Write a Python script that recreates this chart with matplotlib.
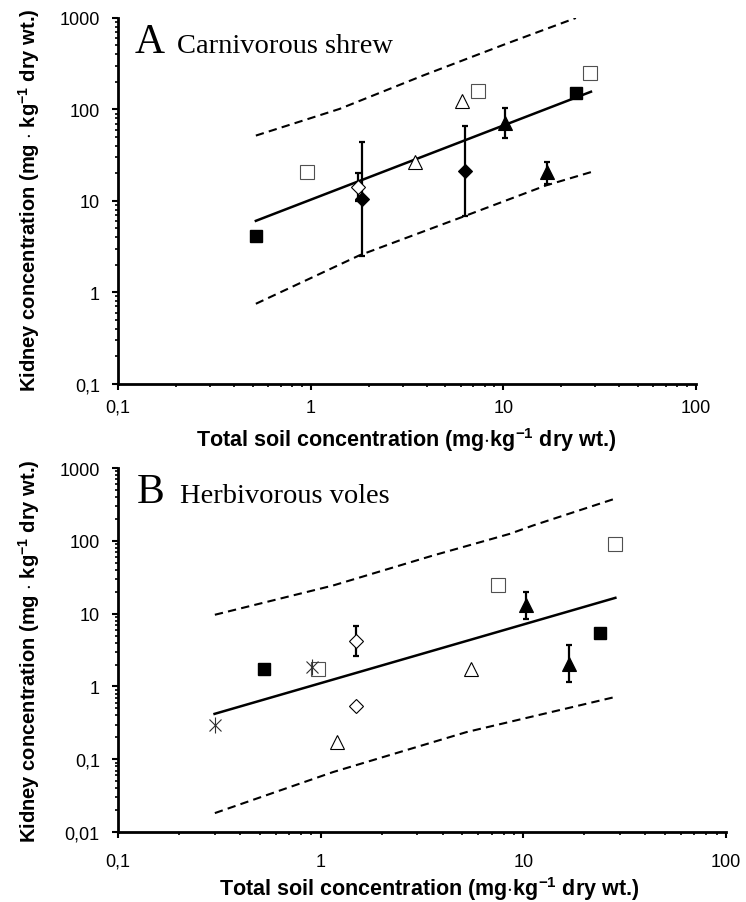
import matplotlib
matplotlib.use("Agg")
import matplotlib.pyplot as plt
import numpy as np

plt.rcParams['font.family'] = ['Liberation Sans', 'DejaVu Sans']
plt.rcParams['mathtext.fontset'] = 'custom'
plt.rcParams['mathtext.rm'] = 'Liberation Sans'
plt.rcParams['mathtext.bf'] = 'Liberation Sans:bold'
plt.rcParams['mathtext.default'] = 'bf'

# ---- A: carnivorous shrew ----
a_fsq_x = [0.52, 23.8]            # filled squares
a_fsq_y = [4.1, 153]
a_osq_x = [0.96, 7.42, 28.2]      # open squares
a_osq_y = [20.6, 157, 250]
a_otri_x = [3.5, 6.11]            # open triangles
a_otri_y = [26.9, 125]
a_ftri_x = [10.2, 16.8]           # filled triangles (mean, low, high)
a_ftri_y = [70.4, 20.6]
a_ftri_lo = [48.9, 15.3]
a_ftri_hi = [103, 26.5]
a_odia_x = [1.76]                 # open diamond
a_odia_y = [14.1]
a_odia_lo = [10.0]
a_odia_hi = [20.1]
a_fdia_x = [1.84, 6.33]           # filled diamonds
a_fdia_y = [10.5, 21.1]
a_fdia_lo = [2.52, 6.9]
a_fdia_hi = [43.8, 65.5]
a_fit_x = [0.52, 28.5]
a_fit_y = [6.04, 156]
a_up_x = [0.52, 1.41, 3.82, 10.3, 23.8]
a_up_y = [51.7, 101, 234, 520, 1000]
a_lo_x = [0.52, 1.79, 6.41, 16.6, 28.5]
a_lo_y = [0.748, 2.53, 6.9, 14.7, 20.6]

# ---- B: herbivorous voles ----
b_fsq_x = [0.525, 23.9]
b_fsq_y = [1.75, 5.42]
b_osq_x = [0.973, 7.47, 28.3]
b_osq_y = [1.71, 24.4, 91]
b_otri_x = [1.2, 5.52]
b_otri_y = [0.172, 1.75]
b_ftri_x = [10.3, 16.9]
b_ftri_y = [13.0, 2.05]
b_ftri_lo = [8.5, 1.15]
b_ftri_hi = [19.8, 3.66]
b_odia_x = [1.5, 1.5]
b_odia_y = [4.2, 0.531]
b_odia_lo = [2.62, 0.531]
b_odia_hi = [6.76, 0.531]
b_star_x = [0.301, 0.903]
b_star_y = [0.291, 1.88]
b_fit_x = [0.3, 28.5]
b_fit_y = [0.42, 16.5]
b_up_x = [0.301, 1.154, 3.59, 8.59, 11.2, 28.3]
b_up_y = [9.66, 24.4, 63, 125, 163, 379]
b_lo_x = [0.301, 1.154, 5.25, 28.3]
b_lo_y = [0.0182, 0.0667, 0.236, 0.715]

xticks = [0.1, 1, 10, 100]
xticklabels = ['0,1', '1', '10', '100']
a_yticks = [0.1, 1, 10, 100, 1000]
a_yticklabels = ['0,1', '1', '10', '100', '1000']
b_yticks = [0.01, 0.1, 1, 10, 100, 1000]
b_yticklabels = ['0,01', '0,1', '1', '10', '100', '1000']

xlab = r'Total soil concentration (mg$\cdot$kg$^{-1}$ dry wt.)'
ylab = r'Kidney concentration (mg $\cdot$ kg$^{-1}$ dry wt.)'

fig = plt.figure(figsize=(7.46, 9.03), dpi=100)
axA = fig.add_axes([0.158, 0.574, 0.775, 0.405])
axB = fig.add_axes([0.158, 0.0775, 0.815, 0.403])


def errbar(ax, x, y, lo, hi, marker, face, ms):
    y = np.array(y)
    yerr = [y - np.array(lo), np.array(hi) - y]
    ax.errorbar(x, y, yerr=yerr, fmt='none', ecolor='black', elinewidth=1.6,
                capsize=2.2, capthick=1.6, zorder=3)
    ax.plot(x, y, linestyle='none', marker=marker, ms=ms, mfc=face,
            mec='black', mew=0.8, zorder=4)


def style(ax, yticks, ylabels, xpad):
    ax.set_xscale('log')
    ax.set_yscale('log')
    ax.set_xlim(0.1, 100)
    ax.set_ylim(yticks[0], yticks[-1])
    ax.set_xticks(xticks, xticklabels)
    ax.set_yticks(yticks, ylabels)
    for s in ['top', 'right']:
        ax.spines[s].set_visible(False)
    for s in ['left', 'bottom']:
        ax.spines[s].set_linewidth(2)
    ax.tick_params(which='major', direction='out', length=4, width=1.5,
                   labelsize=13)
    ax.tick_params(which='minor', direction='out', length=2.5, width=1.2)
    ax.tick_params(axis='y', which='major', pad=9)
    ax.tick_params(axis='x', which='major', pad=xpad)


# panel A
axA.plot(a_up_x, a_up_y, 'k--', lw=1.5, dashes=(4, 2.5), zorder=2)
axA.plot(a_lo_x, a_lo_y, 'k--', lw=1.5, dashes=(4, 2.5), zorder=2)
axA.plot(a_fit_x, a_fit_y, 'k-', lw=1.8, zorder=2)
axA.plot(a_fsq_x, a_fsq_y, 's', ms=9, mfc='black', mec='black', zorder=4)
axA.plot(a_osq_x, a_osq_y, 's', ms=9.5, mfc='white', mec='#505050', mew=0.8, zorder=4)
axA.plot(a_otri_x, a_otri_y, '^', ms=10, mfc='white', mec='black', mew=0.8, zorder=4)
errbar(axA, a_odia_x, a_odia_y, a_odia_lo, a_odia_hi, 'D', 'white', 7.5)
errbar(axA, a_fdia_x, a_fdia_y, a_fdia_lo, a_fdia_hi, 'D', 'black', 7.5)
errbar(axA, a_ftri_x, a_ftri_y, a_ftri_lo, a_ftri_hi, '^', 'black', 10)
style(axA, a_yticks, a_yticklabels, 7)
axA.text(0.029, 0.907, 'A', transform=axA.transAxes, fontsize=30,
         family='Liberation Serif', va='baseline')
axA.text(0.102, 0.907, 'Carnivorous shrew', transform=axA.transAxes,
         fontsize=20.5, family='Liberation Serif', va='baseline')

# panel B
axB.plot(b_up_x, b_up_y, 'k--', lw=1.5, dashes=(4, 2.5), zorder=2)
axB.plot(b_lo_x, b_lo_y, 'k--', lw=1.5, dashes=(4, 2.5), zorder=2)
axB.plot(b_fit_x, b_fit_y, 'k-', lw=1.8, zorder=2)
axB.plot(b_fsq_x, b_fsq_y, 's', ms=9, mfc='black', mec='black', zorder=4)
axB.plot(b_osq_x, b_osq_y, 's', ms=9.5, mfc='white', mec='#505050', mew=0.8, zorder=4)
axB.plot(b_otri_x, b_otri_y, '^', ms=10, mfc='white', mec='black', mew=0.8, zorder=4)
errbar(axB, b_odia_x, b_odia_y, b_odia_lo, b_odia_hi, 'D', 'white', 7.5)
errbar(axB, b_ftri_x, b_ftri_y, b_ftri_lo, b_ftri_hi, '^', 'black', 10)
axB.plot(b_star_x, b_star_y, 'x', ms=9, mec='#303030', mew=0.8, zorder=4)
axB.plot(b_star_x, b_star_y, '|', ms=12, mec='#303030', mew=0.8, zorder=4)
style(axB, b_yticks, b_yticklabels, 11)
axB.text(0.031, 0.907, 'B', transform=axB.transAxes, fontsize=30,
         family='Liberation Serif', va='baseline')
axB.text(0.102, 0.907, 'Herbivorous voles', transform=axB.transAxes,
         fontsize=20.5, family='Liberation Serif', va='baseline')

# axis titles
fig.text(406 / 746, 1 - 440 / 903, xlab, ha='center', va='center',
         fontsize=15.5, fontweight='bold')
fig.text(429 / 746, 1 - 889 / 903, xlab, ha='center', va='center',
         fontsize=15.5, fontweight='bold')
fig.text(29 / 746, 1 - 200 / 903, ylab, ha='center', va='center',
         rotation=90, fontsize=14.5, fontweight='bold')
fig.text(29 / 746, 1 - 651 / 903, ylab, ha='center', va='center',
         rotation=90, fontsize=14.5, fontweight='bold')

fig.savefig('out.png', dpi=100)
